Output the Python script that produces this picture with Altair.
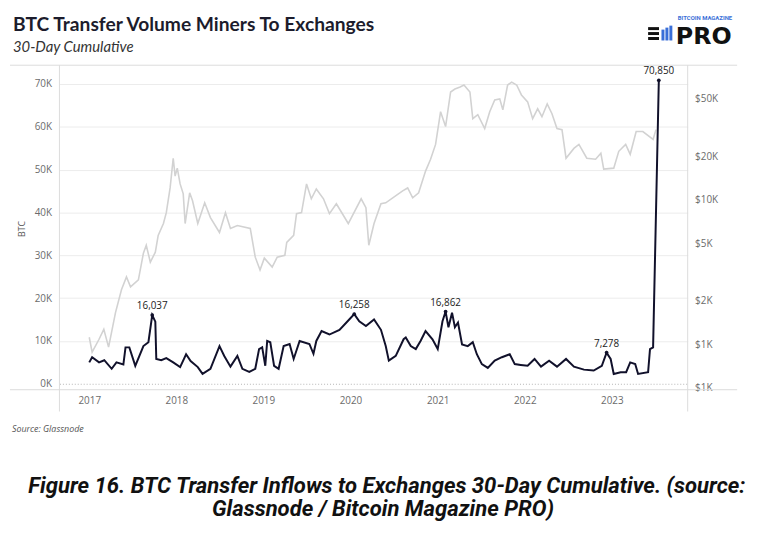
import altair as alt
import pandas as pd

# ---------------- data ----------------
btc_dates = [
    "2017-01-01", "2017-01-13", "2017-02-11", "2017-03-05", "2017-04-05", "2017-04-25",
    "2017-05-24", "2017-06-02", "2017-06-18", "2017-07-13", "2017-08-16", "2017-09-06",
    "2017-09-22", "2017-10-05", "2017-10-09", "2017-10-30", "2017-11-20", "2017-12-19",
    "2018-01-17", "2018-02-11", "2018-03-02", "2018-04-01", "2018-04-21", "2018-05-24",
    "2018-07-01", "2018-07-21", "2018-08-16", "2018-09-14", "2018-10-05", "2018-11-03",
    "2018-11-28", "2018-12-14", "2018-12-27", "2019-01-09", "2019-01-17", "2019-01-30",
    "2019-02-15", "2019-03-06", "2019-03-27", "2019-04-21", "2019-05-08", "2019-06-02",
    "2019-07-13", "2019-07-30", "2019-08-11", "2019-09-02", "2019-10-05", "2019-11-16",
    "2019-12-27", "2020-01-17", "2020-02-07", "2020-03-06", "2020-04-09", "2020-05-08",
    "2020-05-28", "2020-06-10", "2020-07-09", "2020-08-11", "2020-08-20", "2020-09-10",
    "2020-10-01", "2020-10-21", "2020-11-11", "2020-12-10", "2021-01-01", "2021-01-21",
    "2021-02-03", "2021-02-15", "2021-03-02", "2021-03-14", "2021-03-27", "2021-04-13",
    "2021-05-07", "2021-05-28", "2021-06-14", "2021-07-05", "2021-07-30", "2021-08-28",
    "2021-09-27", "2021-10-30", "2021-11-20", "2021-12-15", "2022-01-13", "2022-02-11",
    "2022-03-10", "2022-04-13", "2022-05-16", "2022-06-23", "2022-07-26", "2022-09-06",
    "2022-10-17", "2022-11-20", "2022-12-10", "2022-12-27", "2023-01-09", "2023-02-07",
    "2023-03-02", "2023-03-19", "2023-04-09", "2023-04-21", "2023-06-02", "2023-06-10",
    "2023-06-23", "2023-07-17",
]
btc_values = [
    5000, 6200, 5000, 5500, 3500, 5000,
    4500, 8500, 8500, 4200, 8800, 9700,
    16037, 14500, 5800, 5500, 6000, 5000,
    3900, 6900, 5300, 3900, 2300, 3500,
    8800, 6500, 4000, 6500, 3500, 2800,
    3500, 8100, 8500, 4200, 10000, 9700,
    4200, 3500, 8800, 9300, 5800, 10000,
    9300, 7000, 10000, 12300, 11500, 12600,
    15000, 16258, 14600, 13500, 15000, 12600,
    8800, 5400, 6500, 10400, 10800, 8800,
    8100, 10000, 12300, 10400, 8100, 14600,
    16862, 13200, 16600, 13200, 14300, 9200,
    8800, 9700, 6900, 4600, 3700, 5400,
    6200, 6900, 4600, 4400, 4200, 5800,
    4000, 5400, 4000, 5800, 4000, 3300,
    3100, 4200, 7278, 5800, 2300, 2700,
    2700, 5000, 4600, 2300, 2700, 8100,
    8500, 70850,
]

price_dates = [
    "2017-01-01", "2017-01-13", "2017-02-11", "2017-03-03", "2017-03-23", "2017-04-21",
    "2017-05-16", "2017-06-06", "2017-06-23", "2017-07-26", "2017-08-16", "2017-08-28",
    "2017-09-14", "2017-10-05", "2017-10-17", "2017-11-08", "2017-11-20", "2017-12-06",
    "2017-12-19", "2017-12-27", "2018-01-05", "2018-01-17", "2018-01-30", "2018-02-07",
    "2018-02-26", "2018-03-10", "2018-04-01", "2018-04-30", "2018-05-24", "2018-07-01",
    "2018-07-26", "2018-08-16", "2018-09-14", "2018-11-07", "2018-11-28", "2018-12-18",
    "2019-01-05", "2019-02-07", "2019-02-28", "2019-04-01", "2019-04-09", "2019-05-08",
    "2019-05-20", "2019-06-10", "2019-07-01", "2019-07-21", "2019-08-11", "2019-09-10",
    "2019-10-05", "2019-11-03", "2019-12-23", "2020-02-15", "2020-03-06", "2020-03-18",
    "2020-04-09", "2020-05-08", "2020-05-28", "2020-08-07", "2020-08-28", "2020-09-18",
    "2020-10-13", "2020-11-11", "2020-12-02", "2020-12-23", "2021-01-13", "2021-02-03",
    "2021-02-24", "2021-03-14", "2021-04-05", "2021-04-21", "2021-05-16", "2021-05-28",
    "2021-06-18", "2021-07-17", "2021-08-07", "2021-08-28", "2021-09-18", "2021-10-01",
    "2021-10-21", "2021-11-07", "2021-11-28", "2021-12-18", "2022-01-13", "2022-02-03",
    "2022-02-24", "2022-03-14", "2022-04-05", "2022-04-25", "2022-05-16", "2022-06-06",
    "2022-06-23", "2022-07-26", "2022-08-16", "2022-09-18", "2022-10-25", "2022-11-16",
    "2022-11-28", "2023-01-09", "2023-01-30", "2023-02-28", "2023-03-19", "2023-04-13",
    "2023-05-11", "2023-06-23", "2023-07-05",
]
price_values = [
    1117, 882, 1082, 1267, 954, 1656,
    2381, 2923, 2496, 2787, 4266, 4842,
    3701, 4335, 5666, 6850, 8147, 12080,
    19400, 14590, 16560, 12880, 10990, 6850,
    11170, 9840, 6850, 9530, 7530, 5940,
    8147, 6330, 6640, 6330, 4007, 3264,
    3944, 3420, 4007, 4130, 5074, 5666,
    8017, 8147, 12880, 10160, 11890, 10160,
    8017, 9390, 6850, 10160, 8810, 4842,
    6850, 9390, 9530, 11530, 12080, 10320,
    11170, 15800, 19090, 24190, 40740, 32140,
    55800, 58480, 60390, 62350, 55800, 36450,
    38820, 31120, 40740, 49200, 50000, 42000,
    62350, 65300, 62350, 53200, 47650, 36450,
    42660, 37600, 46130, 39450, 31120, 30620,
    19400, 22700, 24190, 19400, 19090, 20990,
    16300, 16560, 21670, 24190, 20650, 29700,
    29700, 26180, 30620,
]

peak_dates = ["2017-09-22", "2020-01-17", "2021-02-03", "2022-12-10", "2023-07-17"]
peak_values = [16037, 16258, 16862, 7278, 70850]

year_ticks = [2017, 2018, 2019, 2020, 2021, 2022, 2023]
btc_ticks = [0, 10000, 20000, 30000, 40000, 50000, 60000, 70000]
price_ticks = [500, 1000, 2000, 5000, 10000, 20000, 50000]

title_text = "BTC Transfer Volume Miners To Exchanges"
subtitle_text = "30-Day Cumulative"
source_text = "Source: Glassnode"
caption_lines = [
    "Figure 16. BTC Transfer Inflows to Exchanges 30-Day Cumulative. (source:",
    "Glassnode / Bitcoin Magazine PRO)",
]

btc_df = pd.DataFrame({"date": pd.to_datetime(btc_dates), "btc": btc_values})
price_df = pd.DataFrame({"date": pd.to_datetime(price_dates), "price": price_values})
peak_df = pd.DataFrame({"date": pd.to_datetime(peak_dates), "btc": peak_values})

# ---------------- scales / axes ----------------
W, H = 635, 328
AXIS_FONT = "Open Sans"
LABEL_COLOR = "#6b6b6b"

x_scale = alt.Scale(
    domain=[alt.DateTime(year=2016, month=8, date=29), alt.DateTime(year=2023, month=11, date=15)],
    nice=False,
)
x_axis = alt.Axis(
    values=[alt.DateTime(year=y, month=1, date=1) for y in year_ticks],
    format="%Y", title=None, domain=False, ticks=False, grid=False,
    labelColor=LABEL_COLOR, labelFontSize=10, labelFont=AXIS_FONT, labelPadding=6,
    labelAlign="center",
)
btc_scale = alt.Scale(domain=[-1386, 74380], nice=False, zero=False)
price_scale = alt.Scale(type="log", domain=[484, 85500], nice=False)

btc_axis = alt.Axis(
    orient="left", values=btc_ticks, labelExpr="round(datum.value/1000) + 'K'",
    title="BTC", titleFont=AXIS_FONT, titleFontSize=9, titleFontWeight="normal",
    titleColor="#555555", titleAngle=-90, titleX=-38, titleY=165, titleAlign="center",
    titleBaseline="middle",
    domain=False, ticks=False, grid=True,
    gridColor={"condition": {"test": "datum.value === 0", "value": "#b5b5b5"}, "value": "#ececec"},
    gridDash={"condition": {"test": "datum.value === 0", "value": [1, 2]}, "value": []},
    labelColor=LABEL_COLOR, labelFontSize=10, labelFont=AXIS_FONT, labelPadding=8,
)
price_axis = alt.Axis(
    orient="right", values=price_ticks, labelExpr="'$' + round(datum.value/1000) + 'K'",
    title=None, domain=False, ticks=False, grid=False,
    labelColor=LABEL_COLOR, labelFontSize=10, labelFont=AXIS_FONT, labelPadding=7,
)

# ---------------- layers ----------------
price_line = alt.Chart(price_df).mark_line(color="#d2d2d2", strokeWidth=1.6).encode(
    x=alt.X("date:T", scale=x_scale, axis=x_axis),
    y=alt.Y("price:Q", scale=price_scale, axis=price_axis),
)
btc_line = alt.Chart(btc_df).mark_line(color="#11112b", strokeWidth=2).encode(
    x=alt.X("date:T", scale=x_scale, axis=x_axis),
    y=alt.Y("btc:Q", scale=btc_scale, axis=btc_axis),
)
peak_dots = alt.Chart(peak_df).mark_circle(color="#11112b", size=14, opacity=1).encode(
    x=alt.X("date:T", scale=x_scale, axis=x_axis),
    y=alt.Y("btc:Q", scale=btc_scale, axis=None),
)
peak_labels = alt.Chart(peak_df).mark_text(
    baseline="bottom", dy=-4, fontSize=10, font=AXIS_FONT, color="#222222"
).encode(
    x=alt.X("date:T", scale=x_scale, axis=x_axis),
    y=alt.Y("btc:Q", scale=btc_scale, axis=None),
    text=alt.Text("btc:Q", format=","),
)

# frame lines (decoration, pixel space)
frame_df = pd.DataFrame({
    "x": [-50, -50, 0, W],
    "x2": [685, 685, 0, W],
    "y": [0, H, 0, 0],
    "y2": [0, H, 350, 350],
})
frame = alt.Chart(frame_df).mark_rule(color="#dcdcdc", strokeWidth=1).encode(
    x=alt.X("x:Q", scale=None), x2="x2:Q",
    y=alt.Y("y:Q", scale=None), y2="y2:Q",
)


def text_layer(txt, cx, cy, **kw):
    return alt.Chart(pd.DataFrame({"t": [txt]})).mark_text(**kw).encode(
        x=alt.value(cx), y=alt.value(cy), text="t:N"
    )


title = text_layer(title_text, -47, -41, align="left", baseline="middle", font="Lato",
                   fontSize=19.4, fontWeight="bold", color="#1c1c2c")
subtitle = text_layer(subtitle_text, -47, -18, align="left", baseline="middle", font="Lato",
                      fontSize=15, fontStyle="italic", color="#333333")
source = text_layer(source_text, -48, 368, align="left", baseline="middle", font=AXIS_FONT,
                    fontSize=9, fontStyle="italic", color="#555555")
cap1 = text_layer(caption_lines[0], 331, 425, align="center", baseline="middle", font="Roboto",
                  fontSize=22.3, fontStyle="italic", fontWeight="bold", color="#111111")
cap2 = text_layer(caption_lines[1], 327, 449, align="center", baseline="middle", font="Roboto",
                  fontSize=22.3, fontStyle="italic", fontWeight="bold", color="#111111")

# logo
logo_small = text_layer("BITCOIN MAGAZINE", 625, -48, align="left", baseline="middle",
                        font="Roboto", fontSize=6, fontWeight="bold", color="#3a6fd8")
logo_pro = text_layer("PRO", 623, -21, align="left", baseline="alphabetic",
                      font="DejaVu Sans", fontSize=24, fontWeight="bold", color="#111111")
logo_df = pd.DataFrame({
    "x": [595, 595, 595, 610, 614, 618],
    "x2": [606, 606, 606, 610, 614, 618],
    "y": [-37, -32, -27, -36, -38, -40],
    "y2": [-37, -32, -27, -25, -25, -25],
    "c": ["#111111", "#111111", "#111111", "#3a6fd8", "#3a6fd8", "#3a6fd8"],
})
logo_icon = alt.Chart(logo_df).mark_rule(strokeWidth=3).encode(
    x=alt.X("x:Q", scale=None), x2="x2:Q",
    y=alt.Y("y:Q", scale=None), y2="y2:Q",
    color=alt.Color("c:N", scale=None),
)

chart = alt.layer(
    price_line, btc_line, peak_dots, peak_labels, frame,
    title, subtitle, source, cap1, cap2, logo_small, logo_pro, logo_icon,
).resolve_scale(y="independent").properties(
    width=W, height=H,
    autosize=alt.AutoSizeParams(type="none"),
    padding={"left": 52, "top": 55, "right": 64, "bottom": 142},
    background="white",
).configure_view(stroke=None)

chart.save("out.html", embed_options={"renderer": "svg", "actions": False})
